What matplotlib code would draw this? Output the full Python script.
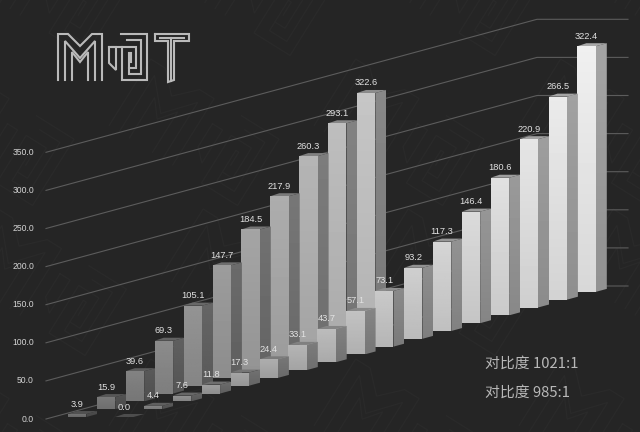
import numpy as np
import matplotlib
matplotlib.use('Agg')
import matplotlib.pyplot as plt
from matplotlib.patches import Polygon

# Values
back_values = [3.9, 15.9, 39.6, 69.3, 105.1, 147.7, 184.5, 217.9, 260.3, 293.1, 322.6]
front_values = [0.0, 4.4, 7.6, 11.8, 17.3, 24.4, 33.1, 43.7, 57.1, 73.1, 93.2,
                117.3, 146.4, 180.6, 220.9, 266.5, 322.4]
ticks = [0, 50, 100, 150, 200, 250, 300, 350]
contrast_labels = ['对比度 1021:1', '对比度 985:1']

# Projection of the fake 3D chart to pixels
BASE_Y = 417.0
STEP_X = 28.9
STEP_Y = 7.82
PX_PER_UNIT = 0.762
BAR_W = 18.4
DEPTH_X = 11.0
DEPTH_Y = 3.0
BACK_X0 = 68.0
FRONT_X0 = 115.0

BG = '#252525'
TEXT = '#e2e2e2'

fig = plt.figure(figsize=(6.4, 4.32), dpi=100, facecolor=BG)
ax = fig.add_axes([0, 0, 1, 1])
ax.set_facecolor(BG)
ax.axis('off')
plt.rcParams['font.family'] = ['Liberation Sans', 'DejaVu Sans']


def grey(v):
    v = min(max(v, 0), 1)
    return (v, v, v)


def face(points, top, bottom, z):
    # polygon filled with a vertical gradient
    pts = np.array(points)
    x0, x1 = pts[:, 0].min(), pts[:, 0].max()
    y0, y1 = pts[:, 1].min(), pts[:, 1].max()
    if y1 - y0 < 0.5:
        return
    grad = np.linspace(top, bottom, 32).reshape(-1, 1)
    im = ax.imshow(grad, extent=[x0, x1, y1, y0], cmap='gray', vmin=0, vmax=1,
                   aspect='auto', zorder=z, interpolation='bilinear')
    clip = Polygon(pts, closed=True, transform=ax.transData)
    im.set_clip_path(clip)


def draw_bar(x, base, value, shade, z):
    top = base - value * PX_PER_UNIT
    xr = x + BAR_W
    # side, top, then the front face
    side = [(xr, top), (xr + DEPTH_X, top - DEPTH_Y), (xr + DEPTH_X, base - DEPTH_Y), (xr, base)]
    face(side, shade * 0.70, shade * 0.62, z)
    cap = [(x, top), (x + DEPTH_X - 2, top - DEPTH_Y), (xr + DEPTH_X, top - DEPTH_Y), (xr, top)]
    ax.add_patch(Polygon(cap, closed=True, facecolor=grey(shade * 0.72), edgecolor='none', zorder=z + 0.1))
    front = [(x, top), (xr, top), (xr, base), (x, base)]
    face(front, shade * 1.02, shade * 0.92, z + 0.2)
    return top


# logo strokes
M_A = [(58, 80), (58, 34), (68, 34), (80, 46), (92, 34), (102, 34), (102, 80)]
M_B = [(65, 80), (65, 41), (80, 58), (95, 41), (95, 80)]
M_C = [(72, 80), (72, 52), (80, 62), (88, 52), (88, 80)]
O_A = [(121, 34), (147, 34), (147, 80), (122, 80), (122, 47), (136, 47), (136, 68), (129, 68)]
O_B = [(127, 40), (141, 40), (141, 74), (129, 74), (129, 53), (131, 53), (131, 62)]
O_C = [(109, 47), (109, 63), (116, 70), (116, 47), (109, 47)]
O_D = [(122, 47), (112, 47)]
T_A = [(155, 34), (189, 34), (189, 41), (174, 41), (174, 80), (168, 82), (168, 41), (155, 41), (155, 34)]
T_B = [(160, 37.5), (184, 37.5)]
T_C = [(171, 38), (171, 81)]
logo = [M_A, M_B, M_C, O_A, O_B, O_C, O_D, T_A, T_B, T_C]

# faint watermark made of rotated logo strokes
angle = np.radians(32)
rot = np.array([[np.cos(angle), -np.sin(angle)], [np.sin(angle), np.cos(angle)]])
for cx in range(-60, 760, 205):
    for cy in range(-20, 520, 150):
        for stroke in logo[:6]:
            s = (np.array(stroke) - [100, 57]) * 1.7
            s = s @ rot.T + [cx + (cy % 300) * 0.35, cy]
            ax.plot(s[:, 0], s[:, 1], color='#2a2a2a', lw=0.9, zorder=0.5, solid_joinstyle='miter')

# wall grid lines
n_cat = len(front_values)
run = 491.0
rise = 133.0
for t in ticks:
    y0 = 419 - t * PX_PER_UNIT
    ax.plot([46, 46 + run, 628], [y0, y0 - rise, y0 - rise], color='#5c5c5c', lw=0.8, zorder=1)
    ax.text(34, y0, f'{t:.1f}', color='#d4d4d4', fontsize=6.2, ha='right', va='center', zorder=50)

# back row first, far bars first
for k in range(len(back_values) - 1, -1, -1):
    x = BACK_X0 + k * STEP_X
    base = BASE_Y - k * STEP_Y
    shade = 0.44 + 0.32 * k / (len(back_values) - 1)
    draw_bar(x, base, back_values[k], shade, 2 + (20 - k) * 0.5)

for k in range(n_cat - 1, -1, -1):
    x = FRONT_X0 + k * STEP_X
    base = BASE_Y - k * STEP_Y
    shade = 0.42 + 0.50 * (k / (n_cat - 1)) ** 0.6
    draw_bar(x, base, front_values[k], shade, 15 + (20 - k) * 0.5)

# value labels stay on top of every bar
for k, v in enumerate(back_values):
    ax.text(BACK_X0 + k * STEP_X + BAR_W / 2, BASE_Y - k * STEP_Y - v * PX_PER_UNIT - 10,
            f'{v:.1f}', color=TEXT, fontsize=6.7, ha='center', va='center', zorder=60)
for k, v in enumerate(front_values):
    ax.text(FRONT_X0 + k * STEP_X + BAR_W / 2, BASE_Y - k * STEP_Y - v * PX_PER_UNIT - 10,
            f'{v:.1f}', color=TEXT, fontsize=6.7, ha='center', va='center', zorder=60)

# logo
for stroke in logo:
    s = np.array(stroke)
    ax.plot(s[:, 0], s[:, 1], color='#bababa', lw=1.5, zorder=70, solid_joinstyle='miter')

# contrast notes
for label, y in zip(contrast_labels, [364, 393]):
    ax.text(485, y, label, color='#b8b8b8', fontsize=10.7, ha='left', va='center', zorder=70,
            family=['Noto Sans CJK SC', 'DejaVu Sans'])

ax.set_xlim(0, 640)
ax.set_ylim(432, 0)
fig.savefig('out.png', dpi=100, facecolor=BG)
